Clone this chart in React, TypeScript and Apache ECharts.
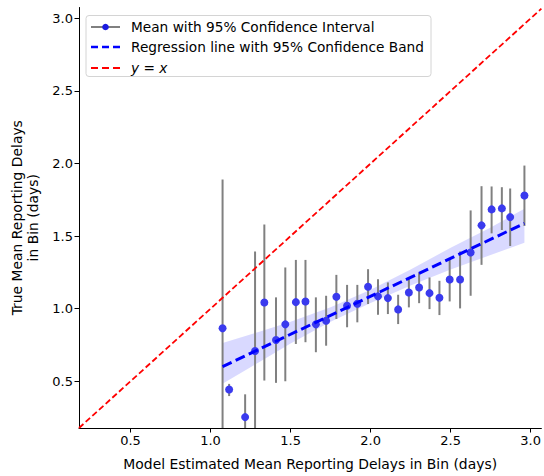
import React, { useEffect, useRef } from "react";
import * as echarts from "echarts";

const xMeans = [1.075, 1.116, 1.216, 1.278, 1.336, 1.409, 1.467, 1.533, 1.593, 1.658, 1.722, 1.786, 1.853, 1.917, 1.984, 2.046, 2.108, 2.172, 2.239, 2.303, 2.368, 2.43, 2.494, 2.559, 2.625, 2.693, 2.756, 2.82, 2.872, 2.961];
const yMeans = [0.865, 0.443, 0.253, 0.709, 1.043, 0.784, 0.892, 1.045, 1.05, 0.892, 0.917, 1.082, 1.02, 1.034, 1.151, 1.085, 1.073, 0.995, 1.112, 1.146, 1.107, 1.075, 1.201, 1.201, 1.387, 1.574, 1.684, 1.691, 1.631, 1.78];
const ciLow = [-0.16, 0.398, 0.096, 0.024, 0.505, 0.489, 0.5, 0.757, 0.769, 0.7, 0.745, 0.929, 0.872, 0.906, 1.032, 0.958, 0.963, 0.894, 1.009, 1.038, 0.997, 0.956, 1.05, 1.002, 1.089, 1.302, 1.519, 1.542, 1.432, 1.57];
const ciHigh = [1.89, 0.482, 0.41, 1.394, 1.58, 1.078, 1.284, 1.336, 1.336, 1.078, 1.089, 1.233, 1.164, 1.164, 1.272, 1.203, 1.181, 1.096, 1.215, 1.249, 1.215, 1.192, 1.341, 1.394, 1.677, 1.844, 1.842, 1.837, 1.828, 1.986];

const regX = [1.075, 2.961];
const regY = [0.601, 1.588];

const bandX = [1.075, 1.3, 1.5, 1.75, 2.0, 2.25, 2.5, 2.75, 2.961];
const bandLow = [0.482, 0.63, 0.76, 0.91, 1.04, 1.16, 1.27, 1.37, 1.455];
const bandHigh = [0.764, 0.84, 0.91, 1.01, 1.13, 1.27, 1.42, 1.56, 1.689];

const identityLine = [0.178, 3.067];
const tickValues = [0.5, 1.0, 1.5, 2.0, 2.5, 3.0];

const legendLabels = [
  "Mean with 95% Confidence Interval",
  "Regression line with 95% Confidence Band",
];

const FONT = '"DejaVu Sans", sans-serif';
const LEG = 13.7;

export default function App() {
  const ref = useRef<HTMLDivElement>(null);
  useEffect(() => {
    if (!ref.current) return;
    const chart = echarts.init(ref.current, undefined, { renderer: "svg" });

    const clampY = (y: number, cs: any) => Math.max(cs.y, Math.min(cs.y + cs.height, y));

    const option: any = {
      animation: false,
      grid: { left: 79, top: 7.5, right: 1, bottom: 46.7 },
      xAxis: {
        type: "value",
        min: 0.178,
        max: 3.067,
        name: "Model Estimated Mean Reporting Delays in Bin (days)",
        nameLocation: "middle",
        nameGap: 29,
        nameTextStyle: { fontFamily: FONT, fontSize: 13.9, color: "#000" },
        splitLine: { show: false },
        axisLine: { show: true, onZero: false, lineStyle: { color: "#000", width: 1 } },
        axisTick: { show: true, length: 4.5, customValues: tickValues, lineStyle: { color: "#000" } },
        axisLabel: {
          customValues: tickValues,
          formatter: (v: number) => v.toFixed(1),
          fontFamily: FONT,
          fontSize: 13,
          color: "#000",
          margin: 6,
        },
      },
      yAxis: {
        type: "value",
        min: 0.178,
        max: 3.075,
        name: "True Mean Reporting Delays\nin Bin (days)",
        nameLocation: "middle",
        nameGap: 36,
        nameTextStyle: { fontFamily: FONT, fontSize: 13.9, color: "#000", lineHeight: 16.5 },
        splitLine: { show: false },
        axisLine: { show: true, onZero: false, lineStyle: { color: "#000", width: 1 } },
        axisTick: { show: true, length: 4.5, customValues: tickValues, lineStyle: { color: "#000" } },
        axisLabel: {
          customValues: tickValues,
          formatter: (v: number) => v.toFixed(1),
          fontFamily: FONT,
          fontSize: 13,
          color: "#000",
          margin: 6,
        },
      },
      series: [
        {
          type: "custom",
          name: "band",
          z: 1,
          data: [[bandX[0], bandLow[0]]],
          renderItem: (params: any, api: any) => {
            const upper = bandX.map((x, i) => api.coord([x, bandHigh[i]]));
            const lower = bandX.map((x, i) => api.coord([x, bandLow[i]])).reverse();
            return {
              type: "polygon",
              shape: { points: upper.concat(lower) },
              style: { fill: "rgba(0,0,255,0.15)", stroke: "none" },
            };
          },
        },
        {
          type: "custom",
          name: "errorbars",
          z: 2,
          data: xMeans.map((x, i) => [x, ciLow[i], ciHigh[i]]),
          encode: { x: 0, y: [1, 2] },
          renderItem: (params: any, api: any) => {
            const cs = params.coordSys;
            const p1 = api.coord([api.value(0), api.value(1)]);
            const p2 = api.coord([api.value(0), api.value(2)]);
            return {
              type: "line",
              shape: { x1: p1[0], y1: clampY(p1[1], cs), x2: p2[0], y2: clampY(p2[1], cs) },
              style: { stroke: "#808080", lineWidth: 2 },
            };
          },
        },
        {
          type: "scatter",
          name: "means",
          z: 3,
          symbol: "circle",
          symbolSize: 8,
          itemStyle: { color: "#3a3aee", opacity: 1 },
          data: xMeans.map((x, i) => [x, yMeans[i]]),
        },
        {
          type: "line",
          name: "regression",
          z: 4,
          showSymbol: false,
          symbol: "none",
          data: regX.map((x, i) => [x, regY[i]]),
          lineStyle: { color: "#0000ff", width: 3, type: [10, 4.5] },
        },
        {
          type: "line",
          name: "identity",
          z: 5,
          showSymbol: false,
          symbol: "none",
          clip: true,
          data: identityLine.map((v) => [v, v]),
          lineStyle: { color: "#ff0000", width: 1.8, type: [6, 3] },
        },
      ],
      graphic: [
        {
          type: "group",
          z: 100,
          children: [
            {
              type: "rect",
              shape: { x: 86, y: 15.5, width: 345, height: 61, r: 3 },
              style: { fill: "rgba(255,255,255,0.85)", stroke: "#d4d4d4", lineWidth: 1 },
            },
            {
              type: "line",
              shape: { x1: 91, y1: 27, x2: 120, y2: 27 },
              style: { stroke: "#808080", lineWidth: 2 },
            },
            {
              type: "circle",
              shape: { cx: 105.5, cy: 27, r: 3.3 },
              style: { fill: "#1a1ae0" },
            },
            {
              type: "line",
              shape: { x1: 91, y1: 47, x2: 120, y2: 47 },
              style: { stroke: "#0000ff", lineWidth: 2.4, lineDash: [7, 4] },
            },
            {
              type: "line",
              shape: { x1: 91, y1: 68, x2: 120, y2: 68 },
              style: { stroke: "#ff0000", lineWidth: 2, lineDash: [7, 4] },
            },
            {
              type: "text",
              x: 131,
              y: 27,
              style: { text: legendLabels[0], font: `${LEG}px ${FONT}`, fill: "#000", verticalAlign: "middle" },
            },
            {
              type: "text",
              x: 131,
              y: 47,
              style: { text: legendLabels[1], font: `${LEG}px ${FONT}`, fill: "#000", verticalAlign: "middle" },
            },
            {
              type: "text",
              x: 131,
              y: 68,
              style: {
                text: "{i|y} = {i|x}",
                font: `${LEG}px ${FONT}`,
                fill: "#000",
                verticalAlign: "middle",
                rich: {
                  i: { fontStyle: "italic", fontFamily: FONT, fontSize: LEG, fill: "#000" },
                },
              },
            },
          ],
        },
      ],
    };

    chart.setOption(option);
    return () => chart.dispose();
  }, []);

  return (
    <div
      ref={ref}
      style={{ position: "absolute", left: 0, top: 0, width: 544, height: 476, background: "#fff" }}
    />
  );
}
